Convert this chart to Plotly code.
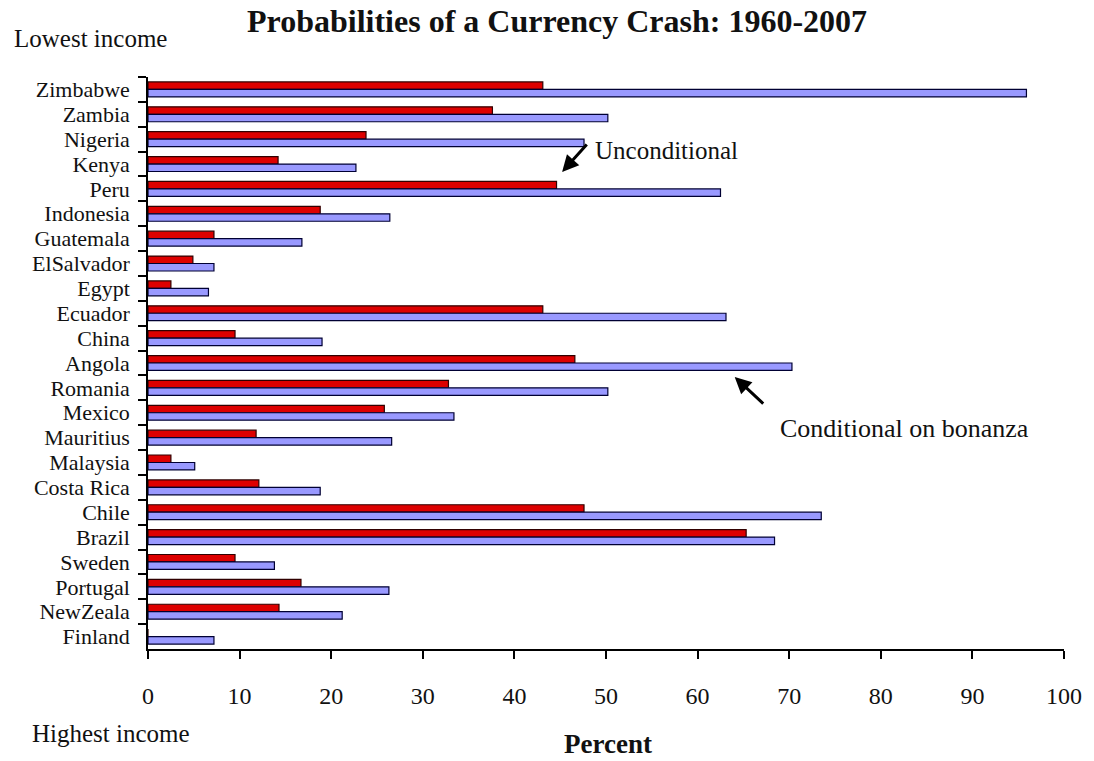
import plotly.graph_objects as go

countries = ["Zimbabwe", "Zambia", "Nigeria", "Kenya", "Peru", "Indonesia", "Guatemala",
             "ElSalvador", "Egypt", "Ecuador", "China", "Angola", "Romania", "Mexico",
             "Mauritius", "Malaysia", "Costa Rica", "Chile", "Brazil", "Sweden",
             "Portugal", "NewZeala", "Finland"]
unconditional = [43.1, 37.6, 23.8, 14.2, 44.6, 18.8, 7.2, 4.9, 2.5, 43.1, 9.5, 46.6, 32.8,
                 25.8, 11.8, 2.5, 12.1, 47.6, 65.3, 9.5, 16.7, 14.3, 0.0]
conditional = [95.9, 50.2, 47.6, 22.7, 62.5, 26.4, 16.8, 7.2, 6.6, 63.1, 19.0, 70.3, 50.2,
               33.4, 26.6, 5.1, 18.8, 73.5, 68.4, 13.8, 26.3, 21.2, 7.2]
x_ticks = [0, 10, 20, 30, 40, 50, 60, 70, 80, 90, 100]

SERIF = "Liberation Serif, Times New Roman, serif"

fig = go.Figure()
fig.add_trace(go.Bar(y=countries, x=unconditional, orientation="h", name="Unconditional",
                     marker=dict(color="#DD0000", line=dict(color="#300000", width=1.2))))
fig.add_trace(go.Bar(y=countries, x=conditional, orientation="h", name="Conditional on bonanza",
                     marker=dict(color="#9999FF", line=dict(color="#000033", width=1.2))))

L, R, T, B = 148, 1066, 77, 649
W, H = 1094, 761
pw, ph = R - L, B - T

def px(xp):
    return (xp - L) / pw

def py(yp):
    return (B - yp) / ph

fig.update_layout(
    width=W, height=H,
    margin=dict(l=L, r=W - R, t=T, b=H - B),
    barmode="group", bargap=0.4, bargroupgap=0,
    showlegend=False,
    plot_bgcolor="white", paper_bgcolor="white",
    font=dict(family=SERIF, color="#111111"),
    xaxis=dict(range=[0, 100], tickvals=x_ticks, showgrid=False, zeroline=False,
               showline=True, linecolor="black", linewidth=1.5,
               ticks="outside", ticklen=8, tickwidth=1.5, tickcolor="black",
               ticklabelstandoff=16,
               tickfont=dict(size=24, family=SERIF), fixedrange=True),
    yaxis=dict(categoryorder="array", categoryarray=countries, autorange="reversed",
               tickmode="linear", tick0=0, dtick=1,
               showgrid=False, zeroline=False, showline=True, linecolor="black", linewidth=1.5,
               ticks="outside", ticklen=8, tickwidth=1.5, tickcolor="black",
               ticklabelstandoff=12,
               tickson="boundaries", tickfont=dict(size=22, family=SERIF), fixedrange=True),
)

anns = [
    dict(text="<b>Probabilities of a Currency Crash: 1960-2007</b>", x=px(558), y=py(21),
         font=dict(size=32)),
    dict(text="Lowest income", x=px(12), y=py(39), xanchor="left", font=dict(size=25)),
    dict(text="Highest income", x=px(30), y=py(733), xanchor="left", font=dict(size=25)),
    dict(text="<b>Percent</b>", x=px(609), y=py(744), font=dict(size=27)),
    dict(text="Unconditional", x=px(594), y=py(150), xanchor="left", font=dict(size=25)),
    dict(text="Conditional on bonanza", x=px(779), y=py(428), xanchor="left", font=dict(size=26)),
]
for a in anns:
    fig.add_annotation(xref="paper", yref="paper", showarrow=False, yanchor="middle", **a)

arrows = [((563, 172), (589, 143)), ((736, 377), (766, 405))]
for (hx, hy), (tx, ty) in arrows:
    fig.add_annotation(xref="paper", yref="paper", x=px(hx), y=py(hy), text="",
                       showarrow=True, arrowhead=2, arrowsize=1.1, arrowwidth=3,
                       arrowcolor="black", ax=tx - hx, ay=ty - hy)

fig.write_html("out.html", config={"displayModeBar": False},
               post_script="document.body.style.margin='0';document.body.style.padding='0';")
